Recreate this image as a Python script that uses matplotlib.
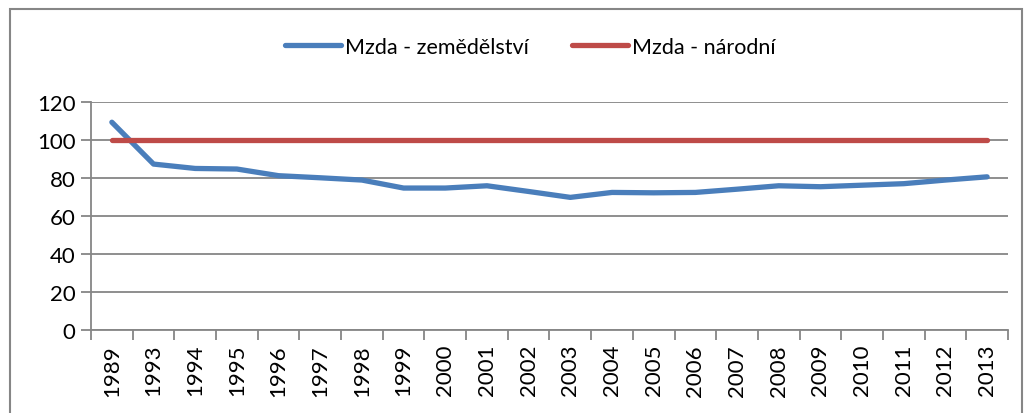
import matplotlib.pyplot as plt
from matplotlib.patches import Rectangle

plt.rcParams['font.family'] = ['Lato', 'DejaVu Sans']

# Data
years = ['1989', '1993', '1994', '1995', '1996', '1997', '1998', '1999', '2000', '2001', '2002',
         '2003', '2004', '2005', '2006', '2007', '2008', '2009', '2010', '2011', '2012', '2013']
zemedelstvi = [109.2, 87.2, 84.9, 84.6, 81.1, 80.0, 78.8, 74.6, 74.6, 75.8, 72.8,
               69.7, 72.3, 72.1, 72.3, 74.0, 75.8, 75.3, 76.1, 76.9, 78.8, 80.5]
narodni = [100] * len(years)

grey = '#868686'

fig = plt.figure(figsize=(10.32, 4.14), dpi=100)
ax = fig.add_axes([0.0882, 0.2005, 0.8885, 0.5515])

x = range(len(years))
ax.plot(x, zemedelstvi, color='#4A7EBB', lw=3.8, solid_capstyle='round', label='Mzda - zemědělství')
ax.plot(x, narodni, color='#BE4B48', lw=3.8, solid_capstyle='round', label='Mzda - národní')

ax.set_xlim(-0.5, len(years) - 0.5)
ax.set_ylim(0, 120)
ax.set_yticks(range(0, 121, 20))
ax.grid(axis='y', color=grey, lw=1.3)
ax.set_axisbelow(True)

# category labels in the middle, tick marks on the boundaries
ax.set_xticks(list(x))
ax.set_xticklabels(years, rotation=90, fontsize=16)
ax.tick_params(axis='x', which='major', length=0, pad=10)
ax.set_xticks([i - 0.5 for i in range(len(years) + 1)], minor=True)
ax.tick_params(axis='x', which='minor', length=7, width=1.3, color=grey)
ax.tick_params(axis='y', length=7, width=1.3, color=grey, labelsize=16, pad=4)

for s in ['top', 'right']:
    ax.spines[s].set_visible(False)
for s in ['left', 'bottom']:
    ax.spines[s].set_color(grey)
    ax.spines[s].set_linewidth(1.3)

fig.legend(loc='center', bbox_to_anchor=(0.514, 0.884), ncol=2, frameon=False,
           fontsize=15.5, handlelength=2.6, handletextpad=0.2, columnspacing=2.0)

# chart frame
fig.patches.append(Rectangle((10 / 1032, -0.1), 1012 / 1032, 1.1 - 10 / 414,
                             transform=fig.transFigure, fill=False, ec=grey, lw=1.5))

plt.savefig('out.png', dpi=100)
